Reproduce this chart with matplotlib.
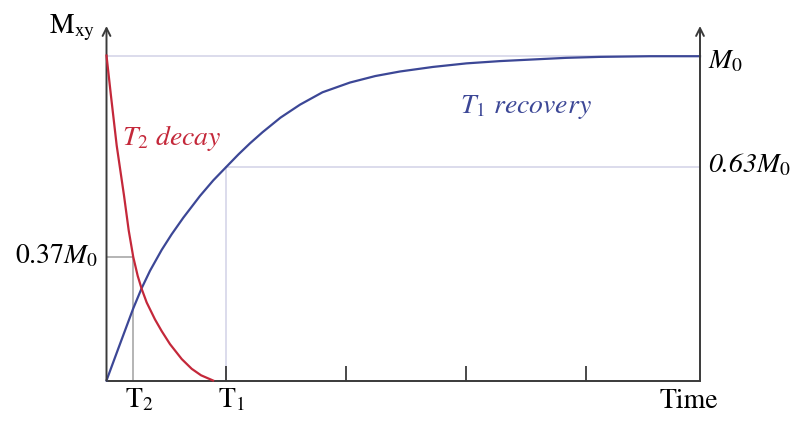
import numpy as np
import matplotlib
matplotlib.use('Agg')
import matplotlib.pyplot as plt

plt.rcParams['font.family'] = 'STIXGeneral'
plt.rcParams['mathtext.fontset'] = 'stix'

# values, time in units of T1, magnetisation in units of M0
t2_time = [0, 0.037, 0.085, 0.146, 0.185, 0.223, 0.26, 0.293, 0.335, 0.404, 0.46, 0.529,
           0.627, 0.71, 0.788, 0.888]
t2_decay = [1.0, 0.877, 0.723, 0.569, 0.462, 0.38, 0.322, 0.282, 0.24, 0.188, 0.152, 0.112,
            0.066, 0.036, 0.016, 0.0]

t1_time = [0, 0.1, 0.223, 0.293, 0.363, 0.46, 0.543, 0.64, 0.779, 0.89, 1.0, 1.1, 1.196,
           1.3, 1.45, 1.613, 1.8, 2.029, 2.24, 2.446, 2.72, 3.0, 3.28, 3.554, 3.83, 4.113,
           4.53, 4.946]
t1_recovery = [0, 0.1, 0.222, 0.284, 0.338, 0.402, 0.450, 0.501, 0.568, 0.616, 0.658, 0.696,
               0.730, 0.764, 0.809, 0.849, 0.887, 0.917, 0.937, 0.951, 0.965, 0.976, 0.983,
               0.988, 0.993, 0.996, 0.998, 0.998]

T2 = 0.223
T1 = 1.0
level_037 = 0.38
level_063 = 0.658
t_end = 4.946
ticks = [1, 2, 3, 4]

red = '#c4283a'
blue = '#3c4796'
guide = '#dcdcec'
grey = '#b4b4b4'
axis_col = '#3a3a3a'

fig = plt.figure(figsize=(7.95, 4.24), dpi=100)
ax = fig.add_axes([106.5 / 795, 43.5 / 424, (700 - 106.5) / 795, (380.5 - 26) / 424])
ax.set_xlim(0, t_end)
ax.set_ylim(0, 1.091)

# guide lines
ax.plot([0, t_end], [1, 1], color=guide, lw=1.4, zorder=1)
ax.plot([T1, t_end], [level_063, level_063], color=guide, lw=1.4, zorder=1)
ax.plot([T1, T1], [0, level_063], color=guide, lw=1.4, zorder=1)
ax.plot([0, T2], [level_037, level_037], color=grey, lw=1.4, zorder=1)
ax.plot([T2, T2], [0, level_037], color=grey, lw=1.4, zorder=1)

# curves
ax.plot(t1_time, t1_recovery, color=blue, lw=1.6, zorder=3, clip_on=False,
        solid_joinstyle='round')
ax.plot(t2_time, t2_decay, color=red, lw=1.6, zorder=4, clip_on=False,
        solid_joinstyle='round')

# axes
for s in ['top', 'left', 'right']:
    ax.spines[s].set_visible(False)
ax.spines['bottom'].set_color(axis_col)
ax.spines['bottom'].set_linewidth(1.4)
ax.set_yticks([])
ax.set_xticks(ticks)
ax.set_xticklabels([])
ax.tick_params(axis='x', direction='in', length=11, width=1.3, color=axis_col)
for xa in [0, t_end]:
    ax.annotate('', xy=(xa, 1.091), xytext=(xa, 0),
                arrowprops=dict(arrowstyle='->', color=axis_col, lw=1.4,
                                mutation_scale=14, shrinkA=0, shrinkB=0),
                annotation_clip=False)

# labels
fs = 20
ax.text(-0.096, 1.069, r'$\mathrm{M_{xy}}$', fontsize=fs, ha='right', va='baseline')
ax.text(-0.07, (380.5 - 263) / 325, r'$0.37M_0$', fontsize=fs, ha='right', va='baseline')
ax.text(t_end + 0.07, (380.5 - 68) / 325, r'$M_0$', fontsize=fs, ha='left', va='baseline')
ax.text(t_end + 0.07, (380.5 - 172) / 325, r'0.63$M_0$', fontsize=fs, style='italic',
        ha='left', va='baseline')
ax.text((125 - 106.5) / 120, -(407 - 380.5) / 325, r'$\mathrm{T_2}$', fontsize=fs,
        ha='left', va='baseline')
ax.text((218 - 106.5) / 120, -(407 - 380.5) / 325, r'$\mathrm{T_1}$', fontsize=fs,
        ha='left', va='baseline')
ax.text((718 - 106.5) / 120, -(408 - 380.5) / 325, 'Time', fontsize=fs, ha='right',
        va='baseline')
ax.text((121.7 - 106.5) / 120, (380.5 - 145) / 325, r'$T_2$ decay', fontsize=fs,
        style='italic', color=red, ha='left', va='baseline')
ax.text((460 - 106.5) / 120, (380.5 - 113) / 325, r'$T_1$ recovery', fontsize=fs,
        style='italic', color=blue, ha='left', va='baseline')

plt.savefig('out.png', dpi=100)
